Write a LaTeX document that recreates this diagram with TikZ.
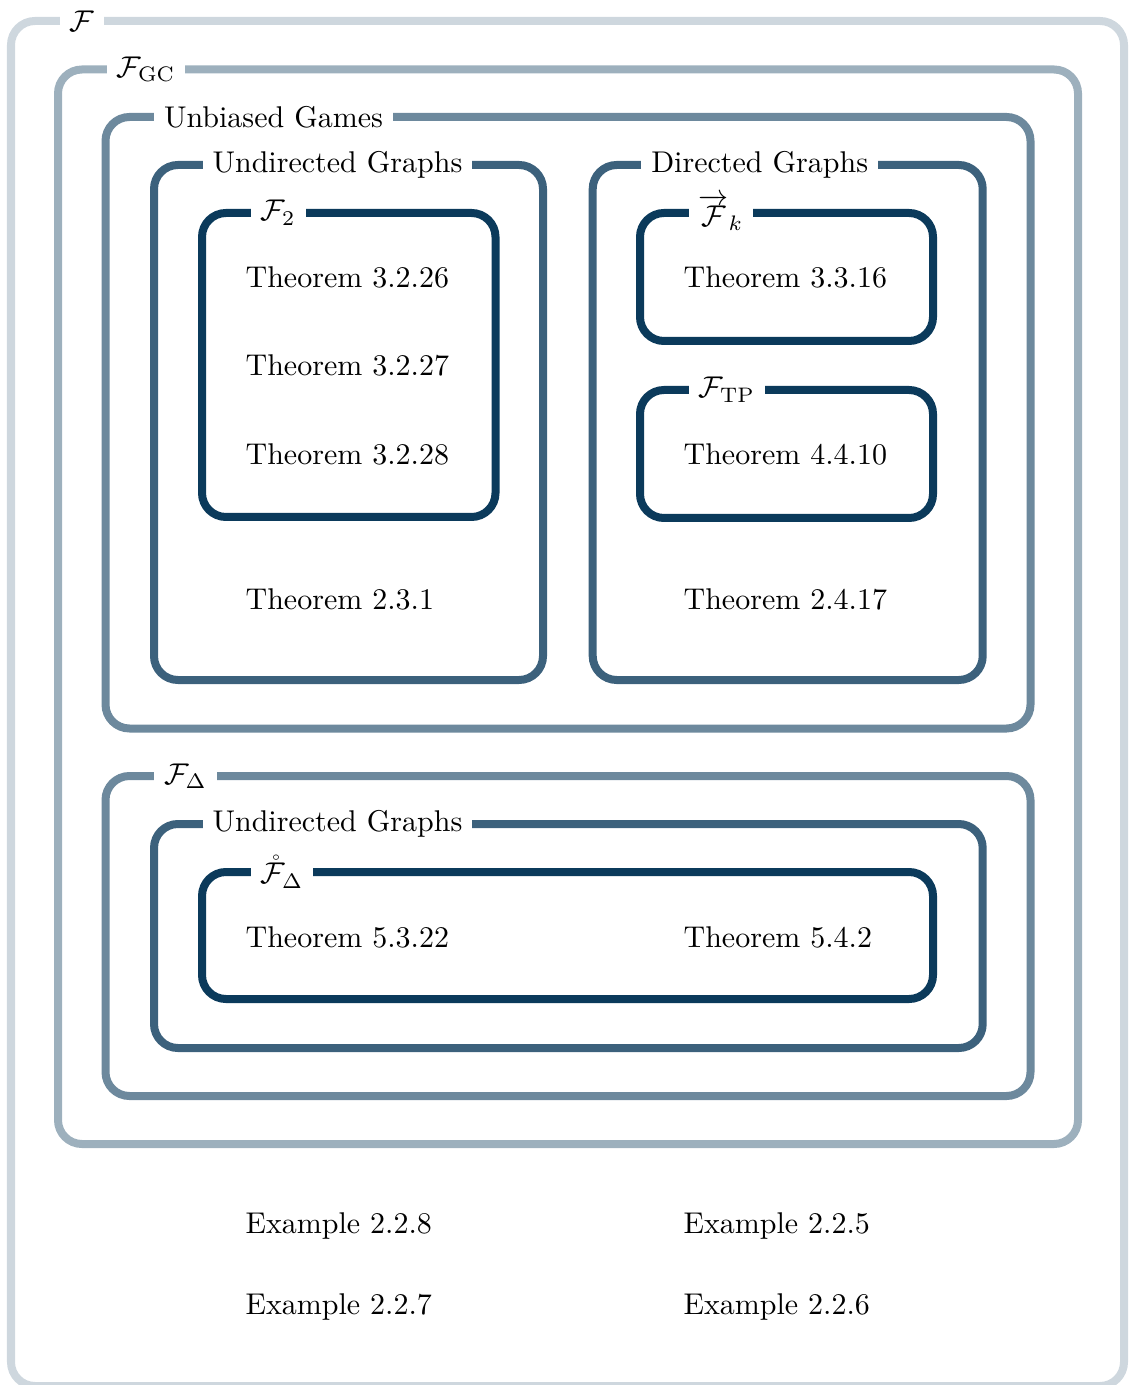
\documentclass[tikz,border=0pt]{standalone}
\usepackage{amsmath}
\definecolor{cbase}{RGB}{11,58,91}
\colorlet{cA}{cbase!20!white}
\colorlet{cB}{cbase!40!white}
\colorlet{cC}{cbase!60!white}
\colorlet{cD}{cbase!80!white}
\colorlet{cE}{cbase}
\begin{document}
\begin{tikzpicture}[x=0.33333pt,y=-0.33333pt,
  box/.style={line width=2.667pt, rounded corners=8pt},
  lab/.style={fill=white, anchor=west, inner sep=3.333pt},
  item/.style={anchor=base west, inner sep=0pt}]
\useasboundingbox (0,0) rectangle (1128,1385);
% boxes
\draw[box, cA] (11,21) rectangle (1124,1386);
\draw[box, cB] (58,69.5) rectangle (1078,1144);
\draw[box, cC] (105.5,117) rectangle (1030.5,728.5);
\draw[box, cD] (154,165) rectangle (543,680);
\draw[box, cD] (592.7,165) rectangle (982.7,680);
\draw[box, cE] (202,213) rectangle (495.5,517);
\draw[box, cE] (640,213) rectangle (933,341);
\draw[box, cE] (640,390) rectangle (933,518);
\draw[box, cC] (105.5,776) rectangle (1030.5,1096);
\draw[box, cD] (154,824) rectangle (982.7,1048);
\draw[box, cE] (202,872) rectangle (933,999);
% labels
\node[lab] (lF) at (59,21) {$\mathcal{F}$};
\node[lab] (lGC) at (106,69.5) {$\mathcal{F}_{\mathrm{GC}}$};
\node[lab] (lUB) at (153.5,117) {Unbiased Games};
\node[lab] (lUG) at (202,165) {Undirected Graphs};
\node[lab] (lDG) at (640.7,165) {Directed Graphs};
\node[lab] (lF2) at (250,213) {$\mathcal{F}_2$};
\node[lab] (lFk) at (688,213) {$\overrightarrow{\mathcal{F}}_k$};
\node[lab] (lTP) at (688,390) {$\mathcal{F}_{\mathrm{TP}}$};
\node[lab] (lFD) at (153.5,776) {$\mathcal{F}_\Delta$};
\node[lab] (lUG2) at (202,824) {Undirected Graphs};
\node[lab] (lRD) at (250,872) {$\mathring{\mathcal{F}}_\Delta$};
% items
\node[item] (t1) at (245,288) {Theorem 3.2.26};
\node[item] (t2) at (245,376) {Theorem 3.2.27};
\node[item] (t3) at (245,465) {Theorem 3.2.28};
\node[item] (t4) at (245,610) {Theorem 2.3.1};
\node[item] (t5) at (683,288) {Theorem 3.3.16};
\node[item] (t6) at (683,465) {Theorem 4.4.10};
\node[item] (t7) at (683,610) {Theorem 2.4.17};
\node[item] (t8) at (245,947) {Theorem 5.3.22};
\node[item] (t9) at (683,947) {Theorem 5.4.2};
\node[item] (e1) at (245,1233) {Example 2.2.8};
\node[item] (e2) at (245,1314) {Example 2.2.7};
\node[item] (e3) at (683,1233) {Example 2.2.5};
\node[item] (e4) at (683,1314) {Example 2.2.6};
\end{tikzpicture}
\end{document}
